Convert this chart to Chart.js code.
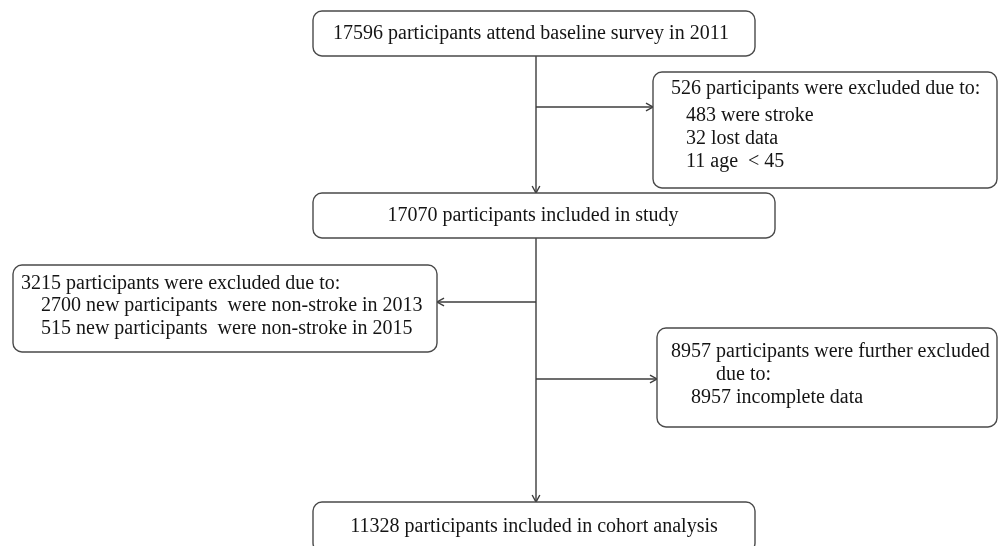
<!DOCTYPE html>
<html>
<head>
<meta charset="utf-8">
<script src="https://cdn.jsdelivr.net/npm/chart.js@4/dist/chart.umd.min.js"></script>
<style>
  html, body { margin: 0; padding: 0; background: #fff; }
  #wrap { width: 999px; height: 546px; }
</style>
</head>
<body>
<div id="wrap"><canvas id="flow"></canvas></div>
<script>
// counts in each step of the flow
const baseline_count = 17596;
const included_count = 17070;
const cohort_count = 11328;

const excl1_total = 526;
const excl1_reasons = ['were stroke', 'lost data', 'age  < 45'];
const excl1_counts = [483, 32, 11];

const excl2_total = 3215;
const excl2_reasons = ['new participants  were non-stroke in 2013', 'new participants  were non-stroke in 2015'];
const excl2_counts = [2700, 515];

const excl3_total = 8957;
const excl3_reasons = ['incomplete data'];
const excl3_counts = [8957];

// box text, built from the arrays above
const box_texts = {
    baseline: [baseline_count + ' participants attend baseline survey in 2011'],
    excl1: [excl1_total + ' participants were excluded due to:']
        .concat(excl1_reasons.map((r, i) => '   ' + excl1_counts[i] + ' ' + r)),
    included: [included_count + ' participants included in study'],
    excl2: [excl2_total + ' participants were excluded due to:']
        .concat(excl2_reasons.map((r, i) => '    ' + excl2_counts[i] + ' ' + r)),
    excl3: [excl3_total + ' participants were further excluded', '         due to:']
        .concat(excl3_reasons.map((r, i) => '    ' + excl3_counts[i] + ' ' + r)),
    cohort: [cohort_count + ' participants included in cohort analysis'],
};

/* ====================
    Layout (scale units = page px)
===================== */
const layout = {
    baseline: { x0: 313, x1: 755, y0: 11, y1: 56, align: 'center', cx: 531, ty: [34] },
    excl1:    { x0: 653, x1: 997, y0: 72, y1: 188, align: 'left', tx: 671, ty: [89, 116, 139, 162] },
    included: { x0: 313, x1: 775, y0: 193, y1: 238, align: 'center', cx: 533, ty: [216] },
    excl2:    { x0: 13, x1: 437, y0: 265, y1: 352, align: 'left', tx: 21, ty: [284, 306, 329] },
    excl3:    { x0: 657, x1: 997, y0: 328, y1: 427, align: 'left', tx: 671, ty: [352, 375, 398] },
    cohort:   { x0: 313, x1: 755, y0: 502, y1: 552, align: 'center', cx: 534, ty: [527] },
};

const trunk_x = 536;
// [x_from, y_from, x_to, y_to, arrow head]
const connectors = [
    [trunk_x, 56, trunk_x, 193, true],
    [trunk_x, 107, 653, 107, true],
    [trunk_x, 238, trunk_x, 502, true],
    [trunk_x, 302, 437, 302, true],
    [trunk_x, 379, 657, 379, true],
];

const line_colour = '#3c3c3c';
const box_colour = '#4a4a4a';
const text_colour = '#141414';
const font = '20px "Liberation Serif", "DejaVu Serif", serif';

const flowPlugin = {
    id: 'flow',
    afterDraw(chart) {
        const ctx = chart.ctx;
        const sx = chart.scales.x, sy = chart.scales.y;
        const px = v => sx.getPixelForValue(v);
        const py = v => sy.getPixelForValue(v);

        ctx.save();
        // connectors
        ctx.strokeStyle = line_colour;
        ctx.fillStyle = line_colour;
        ctx.lineWidth = 1.4;
        connectors.forEach(c => {
            const x0 = px(c[0]), y0 = py(c[1]), x1 = px(c[2]), y1 = py(c[3]);
            ctx.beginPath();
            ctx.moveTo(x0, y0);
            ctx.lineTo(x1, y1);
            ctx.stroke();
            if (c[4]) {
                const a = Math.atan2(y1 - y0, x1 - x0);
                const len = 8, spread = 0.5;
                ctx.beginPath();
                ctx.moveTo(x1 - len * Math.cos(a - spread), y1 - len * Math.sin(a - spread));
                ctx.lineTo(x1, y1);
                ctx.lineTo(x1 - len * Math.cos(a + spread), y1 - len * Math.sin(a + spread));
                ctx.stroke();
            }
        });

        // boxes
        Object.keys(layout).forEach(k => {
            const b = layout[k];
            const x0 = px(b.x0), x1 = px(b.x1), y0 = py(b.y0), y1 = py(b.y1);
            ctx.beginPath();
            ctx.fillStyle = '#fff';
            ctx.strokeStyle = box_colour;
            ctx.lineWidth = 1.4;
            ctx.roundRect(x0, y0, x1 - x0, y1 - y0, 9);
            ctx.fill();
            ctx.stroke();

            ctx.fillStyle = text_colour;
            ctx.font = font;
            ctx.textBaseline = 'middle';
            ctx.textAlign = b.align;
            box_texts[k].forEach((line, i) => {
                const tx = b.align === 'center' ? px(b.cx) : px(b.tx);
                ctx.fillText(line, tx, py(b.ty[i]));
            });
        });
        ctx.restore();
    }
};

new Chart(document.getElementById('flow'), {
    type: 'scatter',
    data: { datasets: [{ data: [], pointRadius: 0 }] },
    options: {
        responsive: true,
        maintainAspectRatio: false,
        animation: false,
        events: [],
        layout: { padding: 0 },
        plugins: { legend: { display: false }, tooltip: { enabled: false } },
        scales: {
            x: { type: 'linear', min: 0, max: 999, display: false },
            y: { type: 'linear', min: 0, max: 546, reverse: true, display: false },
        },
    },
    plugins: [flowPlugin],
});
</script>
</body>
</html>
